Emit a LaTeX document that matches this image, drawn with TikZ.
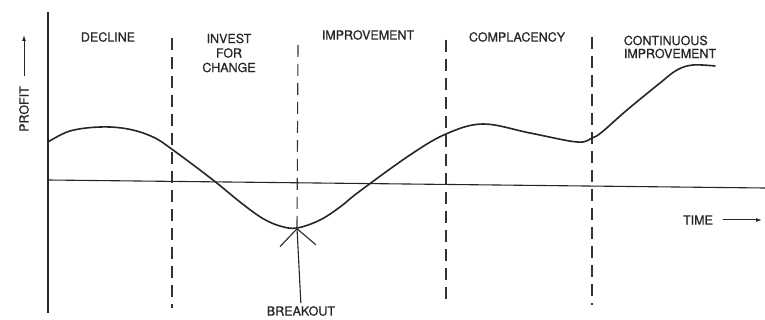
\documentclass[tikz,border=0pt]{standalone}
\usepackage{fontspec}
\setmainfont{TeX Gyre Heros}[FakeBold=0.6]
\usetikzlibrary{arrows.meta}
\begin{document}
\begin{tikzpicture}[x=1pt,y=-1pt,
  lbl/.style={font=\fontsize{12.5}{14.5}\selectfont, inner sep=0pt, align=center, text=black!85},
  axisline/.style={line width=1.1pt, draw=black!85},
  divider/.style={line width=1.1pt, draw=black!80, dash pattern=on 12pt off 7pt},
  curveline/.style={line width=1.6pt, draw=black!85, line cap=round, line join=round},
  smallarrow/.style={line width=1pt, draw=black!85, -{Latex[length=6pt,width=4pt]}}]
\useasboundingbox (0,0) rectangle (765,320);
\fill[white] (0,0) rectangle (765,320);

% labels
\node[lbl] (decline) at (108,37) {DECLINE};
\node[lbl] (invest) at (229,53) {INVEST\\FOR\\CHANGE};
\node[lbl] (improve) at (368,35) {IMPROVEMENT};
\node[lbl] (compl) at (517,37) {COMPLACENCY};
\node[lbl, align=left, font=\fontsize{12.5}{13}\selectfont] (cont) at (670,47) {CONTINUOUS\\IMPROVEMENT};
\node[lbl] (time) at (698,220) {TIME};
\node[lbl, rotate=90] (profit) at (24,109) {PROFIT};
\node[lbl] (breakout) at (301,311) {BREAKOUT};

% coordinates
\coordinate (ytop) at (48,12);
\coordinate (ybot) at (48,313);
\coordinate (xl) at (48,180);
\coordinate (xr) at (765,188);
\coordinate (bktip) at (297,228);
\coordinate (timetip) at (762,220);
\coordinate (profittip) at (24,35);

% axes
\draw[axisline] (ytop) -- (ybot);
\draw[axisline] (xl) -- (xr);

% dividers
\draw[divider] (172,38) -- (172,308);
\draw[divider] (298,45) -- (bktip);
\draw[divider] (446,40) -- (446,303);
\draw[divider] (592,37) -- (592,305);

% profit curve
\draw[curveline] plot[smooth, tension=0.6] coordinates {
 (48,142) (70,131) (100,127) (128,129) (153,137) (173,150) (213,180)
 (240,202) (262,218) (280,226) (297,228) (320,220) (340,207) (360,191)
 (410,155) (446,134) (483,124) (530,133) (577,142) (592,138) (602,132)
 (627,110) (660,83) (677,70) (693,65) (715,66)};

% arrows
\draw[line width=1.1pt, draw=black!85, -{Straight Barb[length=17pt,width=36pt]}, shorten <=3pt] (breakout.north) -- (bktip);
\draw[smallarrow, shorten <=10pt] (time.east) -- (timetip);
\draw[smallarrow, shorten <=10pt] (profit.east) -- (profittip);
\end{tikzpicture}
\end{document}
